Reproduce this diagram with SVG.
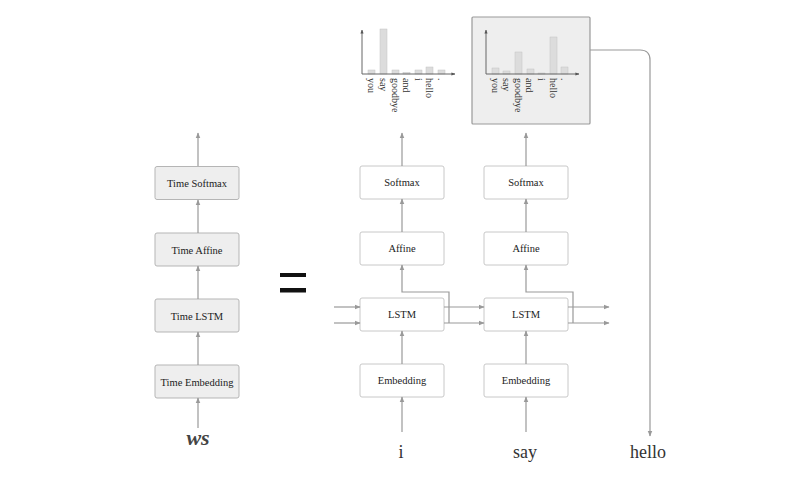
<svg xmlns="http://www.w3.org/2000/svg" width="800" height="479" viewBox="0 0 800 479">
<defs>
<marker id="ah" viewBox="0 0 10 10" refX="9" refY="5" markerWidth="6" markerHeight="6" orient="auto" markerUnits="userSpaceOnUse"><path d="M0,1 L10,5 L0,9 z" fill="#999"/></marker>
<marker id="sh" viewBox="0 0 10 10" refX="9" refY="5" markerWidth="4" markerHeight="4" orient="auto" markerUnits="userSpaceOnUse"><path d="M0,1 L10,5 L0,9 z" fill="#555"/></marker>
</defs>
<style>
.gbox{fill:#eeeeee;stroke:#b5b5b5;stroke-width:1}
.wbox{fill:#ffffff;stroke:#c8c8c8;stroke-width:1}
.lbl{font-family:"Liberation Serif","DejaVu Serif",serif;font-size:10.5px;fill:#222;text-anchor:middle}
.big{font-family:"Liberation Serif","DejaVu Serif",serif;font-size:18px;fill:#333;text-anchor:middle}
.c{fill:none;stroke:#999;stroke-width:1.2}
.ax{fill:none;stroke:#666;stroke-width:1}
.bar{fill:#dcdcdc;stroke:#c4c4c4;stroke-width:0.5}
.tick{font-family:"Liberation Serif","DejaVu Serif",serif;font-size:10px;fill:#333}
</style>
<rect width="800" height="479" fill="#ffffff"/>

<!-- left stack -->
<g id="time-softmax"><rect class="gbox" x="155" y="166.5" width="84" height="33" rx="2"/><text class="lbl" x="197" y="187">Time Softmax</text></g>
<g id="time-affine"><rect class="gbox" x="155" y="233" width="84" height="33" rx="2"/><text class="lbl" x="197" y="253.5">Time Affine</text></g>
<g id="time-lstm"><rect class="gbox" x="155" y="299" width="84" height="33" rx="2"/><text class="lbl" x="197" y="319.5">Time LSTM</text></g>
<g id="time-embedding"><rect class="gbox" x="155" y="365" width="84" height="33" rx="2"/><text class="lbl" x="197" y="385.5">Time Embedding</text></g>
<g id="ws"><text x="198" y="445" font-family="Liberation Serif,DejaVu Serif,serif" font-size="22" font-style="italic" font-weight="bold" fill="#444" text-anchor="middle">ws</text></g>

<!-- equals -->
<g id="equals"><rect x="280" y="273" width="26" height="4" fill="#111"/><rect x="280" y="288" width="26" height="4.5" fill="#111"/></g>

<!-- column 1 -->
<g id="softmax1"><rect class="wbox" x="360" y="166" width="84" height="33" rx="2"/><text class="lbl" x="402" y="186">Softmax</text></g>
<g id="affine1"><rect class="wbox" x="360" y="232" width="84" height="33" rx="2"/><text class="lbl" x="402" y="252">Affine</text></g>
<g id="lstm1"><rect class="wbox" x="360" y="298" width="84" height="33" rx="2"/><text class="lbl" x="402" y="318">LSTM</text></g>
<g id="embedding1"><rect class="wbox" x="360" y="364" width="84" height="33" rx="2"/><text class="lbl" x="402" y="384">Embedding</text></g>
<g id="word-i"><text class="big" x="401" y="458">i</text></g>

<!-- column 2 -->
<g id="softmax2"><rect class="wbox" x="484" y="166" width="84" height="33" rx="2"/><text class="lbl" x="526" y="186">Softmax</text></g>
<g id="affine2"><rect class="wbox" x="484" y="232" width="84" height="33" rx="2"/><text class="lbl" x="526" y="252">Affine</text></g>
<g id="lstm2"><rect class="wbox" x="484" y="298" width="84" height="33" rx="2"/><text class="lbl" x="526" y="318">LSTM</text></g>
<g id="embedding2"><rect class="wbox" x="484" y="364" width="84" height="33" rx="2"/><text class="lbl" x="526" y="384">Embedding</text></g>
<g id="word-say"><text class="big" x="525" y="458">say</text></g>
<g id="word-hello"><text class="big" x="648" y="458">hello</text></g>

<!-- chart 1 -->
<g id="chart1">
<rect class="bar" x="368" y="70" width="7" height="4"/>
<rect class="bar" x="380" y="29" width="7" height="45"/>
<rect class="bar" x="392" y="70" width="7" height="4"/>
<rect class="bar" x="403" y="72.5" width="7" height="1.5"/>
<rect class="bar" x="415" y="70" width="7" height="4"/>
<rect class="bar" x="426" y="67" width="7" height="7"/>
<rect class="bar" x="438" y="70" width="7" height="4"/>
<line class="ax" x1="362" y1="74" x2="362" y2="30" marker-end="url(#sh)"/>
<line class="ax" x1="362" y1="74" x2="455" y2="74" marker-end="url(#sh)"/>
<g class="tick">
<text transform="translate(368,78) rotate(90)">you</text>
<text transform="translate(380,78) rotate(90)">say</text>
<text transform="translate(391.5,78) rotate(90)">goodbye</text>
<text transform="translate(403,78) rotate(90)">and</text>
<text transform="translate(414.5,78) rotate(90)">i</text>
<text transform="translate(426,78) rotate(90)">hello</text>
<text transform="translate(438,78) rotate(90)">.</text>
</g>
</g>

<!-- chart 2 -->
<g id="chart2">
<rect x="472" y="17" width="118" height="107" fill="#eeeeee" stroke="#999" stroke-width="1.2" rx="1"/>
<rect class="bar" x="492" y="68" width="7" height="6"/>
<rect class="bar" x="503" y="71" width="7" height="3"/>
<rect class="bar" x="515" y="52" width="7" height="22"/>
<rect class="bar" x="527" y="69" width="7" height="5"/>
<rect class="bar" x="538" y="73" width="7" height="1"/>
<rect class="bar" x="550" y="37" width="7" height="37"/>
<rect class="bar" x="561" y="67" width="7" height="7"/>
<line class="ax" x1="486" y1="74" x2="486" y2="30" marker-end="url(#sh)"/>
<line class="ax" x1="486" y1="74" x2="579" y2="74" marker-end="url(#sh)"/>
<g class="tick">
<text transform="translate(491.5,78) rotate(90)">you</text>
<text transform="translate(503,78) rotate(90)">say</text>
<text transform="translate(514.5,78) rotate(90)">goodbye</text>
<text transform="translate(526,78) rotate(90)">and</text>
<text transform="translate(538,78) rotate(90)">i</text>
<text transform="translate(549.5,78) rotate(90)">hello</text>
<text transform="translate(561,78) rotate(90)">.</text>
</g>
</g>

<!-- connectors -->
<g id="connectors">
<line class="c" x1="198" y1="166" x2="198" y2="133" marker-end="url(#ah)"/>
<line class="c" x1="198" y1="233" x2="198" y2="200" marker-end="url(#ah)"/>
<line class="c" x1="198" y1="299" x2="198" y2="266" marker-end="url(#ah)"/>
<line class="c" x1="198" y1="365" x2="198" y2="332" marker-end="url(#ah)"/>
<line class="c" x1="198" y1="428" x2="198" y2="398" marker-end="url(#ah)"/>

<line class="c" x1="402" y1="166" x2="402" y2="133" marker-end="url(#ah)"/>
<line class="c" x1="402" y1="232" x2="402" y2="199" marker-end="url(#ah)"/>
<line class="c" x1="402" y1="364" x2="402" y2="331" marker-end="url(#ah)"/>
<line class="c" x1="402" y1="432" x2="402" y2="397" marker-end="url(#ah)"/>
<polyline class="c" points="449,323 449,292 402,292 402,265" marker-end="url(#ah)"/>

<line class="c" x1="526" y1="166" x2="526" y2="133" marker-end="url(#ah)"/>
<line class="c" x1="526" y1="232" x2="526" y2="199" marker-end="url(#ah)"/>
<line class="c" x1="526" y1="364" x2="526" y2="331" marker-end="url(#ah)"/>
<line class="c" x1="526" y1="432" x2="526" y2="397" marker-end="url(#ah)"/>
<polyline class="c" points="573,323 573,292 526,292 526,265" marker-end="url(#ah)"/>

<line class="c" x1="334" y1="307" x2="360" y2="307" marker-end="url(#ah)"/>
<line class="c" x1="334" y1="323" x2="360" y2="323" marker-end="url(#ah)"/>
<line class="c" x1="444" y1="307" x2="484" y2="307" marker-end="url(#ah)"/>
<line class="c" x1="444" y1="323" x2="484" y2="323" marker-end="url(#ah)"/>
<line class="c" x1="568" y1="307" x2="609" y2="307" marker-end="url(#ah)"/>
<line class="c" x1="568" y1="323" x2="609" y2="323" marker-end="url(#ah)"/>

<path class="c" d="M590,50 L640,50 Q650,50 650,60 L650,436" marker-end="url(#ah)"/>
</g>
</svg>
